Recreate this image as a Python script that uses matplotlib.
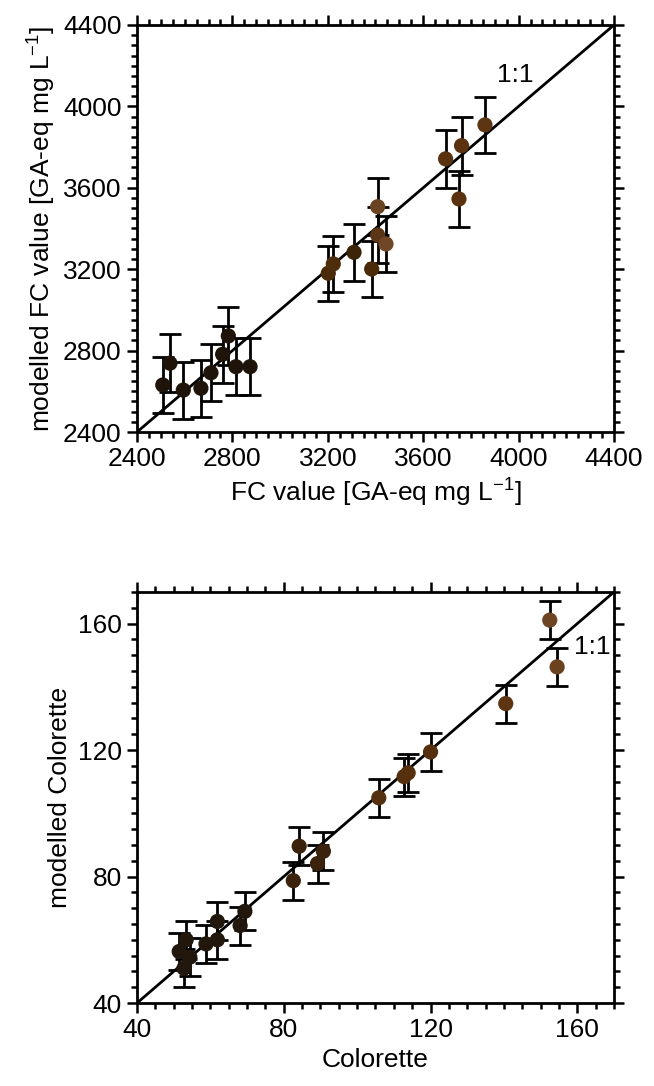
import matplotlib
matplotlib.use('Agg')
import matplotlib.pyplot as plt
from matplotlib.ticker import MultipleLocator

plt.rcParams['font.family'] = ['Liberation Sans', 'DejaVu Sans']
plt.rcParams['mathtext.default'] = 'regular'

# FC value [GA-eq mg L-1]: measured vs modelled
fc_meas = [2508, 2538, 2594, 2668, 2710, 2759, 2783, 2815, 2874,
           3202, 3223, 3310, 3384, 3409, 3409, 3444, 3694, 3761, 3750, 3859]
fc_model = [2631, 2738, 2606, 2615, 2691, 2782, 2872, 2721, 2721,
            3180, 3226, 3283, 3201, 3507, 3368, 3324, 3742, 3807, 3545, 3909]
fc_err = [140, 143, 140, 141, 140, 141, 141, 139, 140,
          136, 137, 139, 140, 140, 138, 136, 142, 142, 138, 138]
fc_col = ['#1e140a'] * 9 + ['#4a2a08', '#4e2d0c', '#3c2408', '#4a2a08',
                            '#6a4422', '#5a3616', '#6f4727',
                            '#5a3210', '#5a3210', '#5a3210', '#5e3512']

# Colorette: measured vs modelled
col_meas = [51.5, 53.4, 54.4, 52.8, 58.8, 61.9, 61.9, 68.1, 69.4,
            82.6, 84.2, 89.2, 90.8, 105.9, 112.8, 113.9, 120.0,
            140.5, 152.5, 154.5]
col_model = [56.3, 60.0, 54.5, 51.0, 58.7, 60.0, 65.8, 64.5, 69.0,
             78.7, 89.6, 84.1, 88.0, 104.9, 111.6, 112.8, 119.4,
             134.7, 161.1, 146.3]
col_err = [6.0] * 20
col_col = ['#21170c'] * 9 + ['#3a220c'] * 4 + ['#56300e'] * 4 + \
          ['#5e3512', '#6e4423', '#6b4220']

FS = 19


def one_to_one(ax, x, y, err, colors, lim, major, minor, label_xy):
    ax.plot(lim, lim, color='black', lw=2.0, zorder=1)
    ax.errorbar(x, y, yerr=err, fmt='none', ecolor='black',
                elinewidth=2.0, capsize=8, capthick=2.0, zorder=2)
    ax.scatter(x, y, s=120, c=colors, edgecolors='none', zorder=3)
    ax.text(label_xy[0], label_xy[1], '1:1', fontsize=FS, ha='center',
            va='center')
    ax.set_xlim(lim)
    ax.set_ylim(lim)
    for a in (ax.xaxis, ax.yaxis):
        a.set_major_locator(MultipleLocator(major))
        a.set_minor_locator(MultipleLocator(minor))
    ax.tick_params(which='both', direction='out', top=True, right=True,
                   width=1.8, labelsize=FS)
    ax.tick_params(which='major', length=7, pad=4)
    ax.tick_params(which='minor', length=4)
    for s in ax.spines.values():
        s.set_linewidth(2.0)


fig = plt.figure(figsize=(6.54, 10.86), dpi=100)

ax1 = fig.add_axes([0.2095, 0.6022, 0.7293, 0.3748])
one_to_one(ax1, fc_meas, fc_model, fc_err, fc_col, (2400, 4400), 400, 50,
           (3985, 4154))
ax1.set_xlabel('FC value [GA-eq mg L$^{-1}$]', fontsize=FS)
ax1.set_ylabel('modelled FC value [GA-eq mg L$^{-1}$]', fontsize=FS)

ax2 = fig.add_axes([0.2095, 0.0764, 0.7293, 0.3785])
one_to_one(ax2, col_meas, col_model, col_err, col_col, (40, 170), 40, 5,
           (164.2, 152.6))
ax2.set_xlabel('Colorette', fontsize=FS)
ax2.set_ylabel('modelled Colorette', fontsize=FS)

fig.savefig('out.png', dpi=100)
